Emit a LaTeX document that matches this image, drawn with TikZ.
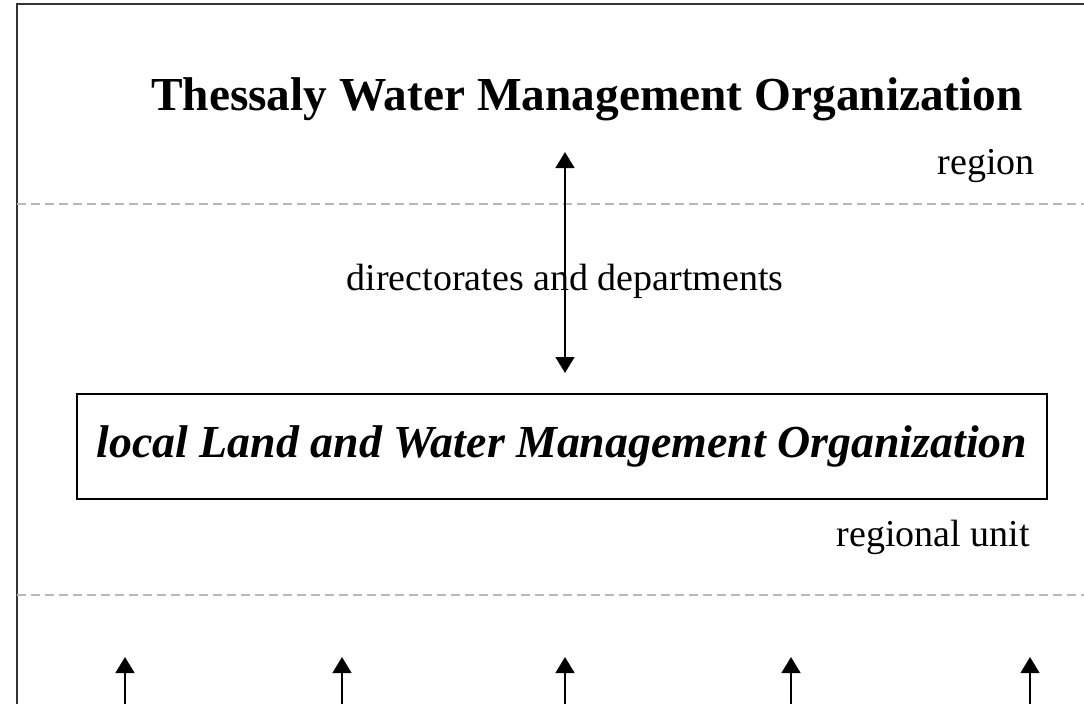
\documentclass[tikz,border=0pt]{standalone}
\usepackage{fontspec}
\setmainfont{Liberation Serif}
\usepackage{xcolor}
\definecolor{dashgray}{rgb}{0.72,0.72,0.72}
\usepackage{tikz}
\usetikzlibrary{arrows.meta, positioning, calc}

\begin{document}
\begin{tikzpicture}[
    x=0.75pt, y=-0.75pt,
    title/.style={font=\fontsize{35.5}{40}\selectfont\bfseries, inner sep=0pt},
    lvl/.style={font=\fontsize{28.5}{32}\selectfont, inner sep=0pt},
    orgbox/.style={
        rectangle,
        draw,
        line width=1.4pt,
        minimum width=727.5pt,
        minimum height=78.75pt,
        align=center,
        font=\fontsize{34.4}{38}\selectfont\bfseries\itshape
    },
    sep/.style={dashgray, line width=1.5pt, dash pattern=on 6.75pt off 3.75pt},
    arr/.style={-{Triangle[length=12pt, width=14pt]}, line width=1.9pt},
    arrboth/.style={{Triangle[length=12pt, width=14pt]}-{Triangle[length=12pt, width=14pt]}, line width=1.9pt}
]
\useasboundingbox (0,0) rectangle (1084,703);
\clip (0,0) rectangle (1084,703);

% frame
\draw[line width=1.6pt, black!80] (17,4) rectangle (1120,740);

% levels
\draw[sep] (17,204) -- (1084,204);
\draw[sep] (17,595) -- (1084,595);

\node[title] (thessaly) at (587,99) {Thessaly Water Management Organization};
\node[lvl, anchor=east] (region) at (1035,166) {region};
\node[lvl] (direct) at (565,281) {directorates and departments};
\node[orgbox] (local) at (562,446.5) {local Land and Water Management Organization};
\node[lvl, anchor=east] (unit) at (1030,537) {regional unit};

\coordinate (top) at (565,152);
\coordinate (bot) at (565,373);
\draw[arrboth] (top) -- (bot);

% arrows from below
\foreach \x [count=\i] in {125,342,565,791,1030} {
    \coordinate (up\i) at (\x,657);
    \coordinate (low\i) at (\x,720);
    \draw[arr] (low\i) -- (up\i);
}

\end{tikzpicture}
\end{document}
